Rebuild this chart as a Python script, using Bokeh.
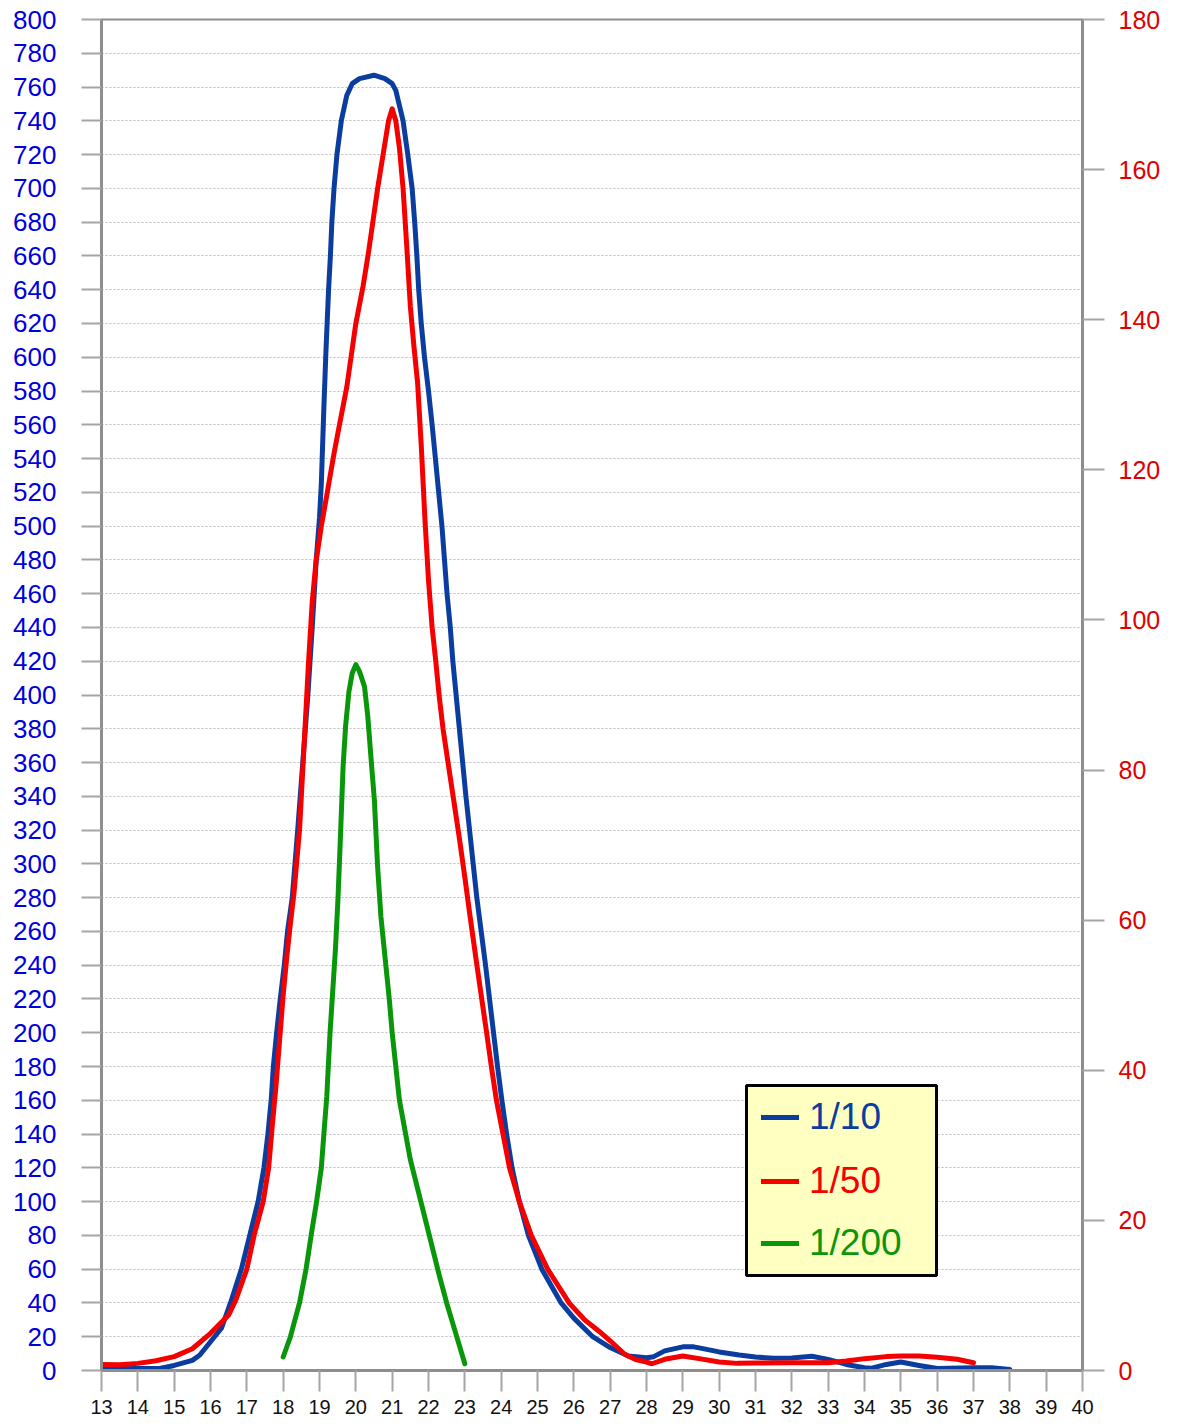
from bokeh.plotting import figure
from bokeh.models import Range1d, LinearAxis, FixedTicker, Legend, LegendItem, BoxAnnotation
from bokeh.embed import file_html
from bokeh.resources import INLINE

# ---------------- data ----------------
x_ticks = list(range(13, 41))
left_ticks = list(range(0, 801, 20))
right_ticks = list(range(0, 181, 20))

# 1/10  (left axis)
blue_x = [13.0, 14.0, 14.6, 15.0, 15.5, 15.7, 16.0, 16.3, 16.55, 16.85, 17.08, 17.31, 17.47,
          17.58, 17.67, 17.73, 17.82, 17.92, 18.03, 18.12, 18.25, 18.4, 18.54, 18.68, 18.8,
          18.91, 19.0, 19.05, 19.12, 19.18, 19.25, 19.3, 19.34, 19.4, 19.48, 19.6, 19.75,
          19.9, 20.1, 20.5, 20.8, 21.0, 21.1, 21.3, 21.43, 21.55, 21.62, 21.68, 21.73, 21.8,
          21.89, 22.0, 22.1, 22.19, 22.28, 22.37, 22.44, 22.51, 22.6, 22.67, 22.76, 22.85,
          22.94, 23.03, 23.13, 23.23, 23.33, 23.45, 23.57, 23.68, 23.79, 23.9, 24.02, 24.15,
          24.3, 24.5, 24.75, 25.12, 25.65, 26.0, 26.52, 27.0, 27.5, 28.0, 28.2, 28.5, 29.0,
          29.3, 29.45, 30.0, 30.55, 31.0, 31.5, 32.0, 32.55, 33.0, 33.5, 34.0, 34.2, 34.6,
          35.0, 35.5, 36.0, 37.0, 37.5, 38.0]
blue_y = [1, 1.2, 1.2, 3, 6, 9, 17, 25, 40, 60, 80, 100, 120,
          140, 160, 180, 200, 220, 240, 260, 280, 320, 360, 400, 440,
          480, 505, 525, 570, 605, 640, 660, 680, 700, 720, 740, 755,
          762, 765, 767, 765, 762, 758, 740, 720, 700, 680, 660, 640, 620,
          600, 580, 560, 540, 520, 500, 480, 460, 440, 420, 400, 380,
          360, 340, 320, 300, 280, 260, 240, 220, 200, 180, 160, 140,
          120, 100, 80, 60, 40, 31, 20, 13.6, 8.6, 7.6, 8.2, 11.6, 14,
          14, 13.4, 11, 9.2, 8, 7.2, 7.4, 8.4, 6.6, 3.6, 1.6, 1.4, 3.6,
          5, 3, 1.2, 1.6, 1.6, 0.6]

# 1/50  (right axis)
red_x = [13.0, 13.5, 14.0, 14.5, 15.0, 15.5, 16.0, 16.5, 16.7, 17.0, 17.2, 17.45, 17.6, 17.7,
         17.8, 17.9, 18.0, 18.1, 18.2, 18.3, 18.45, 18.6, 18.7, 18.8, 18.9, 19.05, 19.2, 19.4,
         19.55, 19.75, 19.9, 20.0, 20.2, 20.35, 20.5, 20.6, 20.75, 20.9, 21.0, 21.1, 21.2,
         21.3, 21.4, 21.5, 21.6, 21.7, 21.8, 21.9, 22.0, 22.1, 22.2, 22.3, 22.4, 22.55, 22.7,
         22.85, 23.0, 23.15, 23.3, 23.45, 23.6, 23.73, 23.87, 24.05, 24.23, 24.5,
         24.83, 25.28, 25.87, 26.3, 26.7, 27.0, 27.4, 27.7, 28.0, 28.15, 28.5, 29.0, 29.45,
         30.0, 30.5, 31.0, 32.0, 33.0, 33.5, 34.0, 34.6, 35.0, 35.5, 36.0, 36.55, 37.0]
red_y = [0.8, 0.77, 0.95, 1.3, 1.85, 2.9, 4.95, 7.4, 9.45, 13.5, 18, 22.5, 27, 32.6,
         37.8, 43.9, 50, 55.1, 59.6, 63.7, 72, 85.5, 94.5, 102.4, 107.6, 112.5, 116.6, 122.2,
         126, 131, 136.1, 139.5, 144.5, 149, 154.1, 157.5, 162, 166.5, 168.1, 166.5, 162.9,
         157.5, 149.9, 141.8, 136.4, 131.6, 123.3, 113.6, 105.3, 99, 94.5, 89.6, 85.5, 80.6, 75.8,
         70.9, 65.7, 60.3, 55.1, 50, 45, 40.5, 36, 31.5, 27, 22.5,
         18, 13.5, 9, 6.75, 5.2, 3.96, 2.16, 1.46, 1.13, 0.9, 1.49, 1.94, 1.58,
         1.13, 0.95, 0.99, 1.04, 1.04, 1.26, 1.58, 1.85, 1.94, 1.94, 1.76, 1.49, 1.04]

# 1/200  (right axis)
green_x = [18.0, 18.2, 18.45, 18.63, 18.77, 18.92, 19.05, 19.12, 19.2, 19.29, 19.35, 19.44,
           19.51, 19.58, 19.65, 19.72, 19.81, 19.9, 20.0, 20.1, 20.24, 20.33, 20.42, 20.51,
           20.6, 20.69, 20.83, 20.92, 21.0, 21.2, 21.5, 22.0, 22.3, 22.5, 22.75, 23.0]
green_y = [1.8, 4.5, 9, 13.5, 18, 22.5, 27, 31.5, 36.45, 45, 49.5, 56.25,
           63, 71.55, 80.55, 85.95, 90.45, 92.9, 94.05, 93.15, 91.1, 87.1, 81.45, 76.05,
           67.05, 60.5, 53.8, 49.5, 45, 36, 28.1, 18.45, 12.6, 9, 4.95, 0.9]

series_names = ["1/10", "1/50", "1/200"]
series_colors = ["#0B3D9E", "#F50000", "#0A960A"]

# ---------------- figure ----------------
FONT = "Liberation Sans"
GRAY = "#8E8E8E"

p = figure(width=1178, height=1420, x_range=Range1d(13, 40), y_range=Range1d(0, 800),
           output_backend="svg", toolbar_location=None,
           min_border_left=101, min_border_right=96, min_border_top=19, min_border_bottom=50)
p.extra_y_ranges = {"right": Range1d(0, 180)}
p.background_fill_color = "white"
p.border_fill_color = "white"
p.outline_line_color = GRAY
p.outline_line_width = 2

# left axis
ly = p.yaxis[0]
ly.ticker = FixedTicker(ticks=left_ticks)
ly.axis_line_color = GRAY
ly.axis_line_width = 3
ly.major_tick_line_color = "#A5A5A5"
ly.major_tick_line_width = 2
ly.major_tick_out = 20
ly.major_tick_in = 0
ly.minor_tick_line_color = None
ly.major_label_text_color = "#0000DD"
ly.major_label_text_font = FONT
ly.major_label_text_font_size = "26px"
ly.major_label_standoff = 25

# bottom axis
bx = p.xaxis[0]
bx.ticker = FixedTicker(ticks=x_ticks)
bx.axis_line_color = GRAY
bx.axis_line_width = 3
bx.major_tick_line_color = "#A5A5A5"
bx.major_tick_line_width = 2
bx.major_tick_out = 21
bx.major_tick_in = 0
bx.minor_tick_line_color = None
bx.major_label_text_color = "#111111"
bx.major_label_text_font = FONT
bx.major_label_text_font_size = "20px"
bx.major_label_standoff = 8

# right axis
ry = LinearAxis(y_range_name="right", ticker=FixedTicker(ticks=right_ticks))
ry.axis_line_color = GRAY
ry.axis_line_width = 3
ry.major_tick_line_color = "#A5A5A5"
ry.major_tick_line_width = 2
ry.major_tick_out = 22
ry.major_tick_in = 0
ry.minor_tick_line_color = None
ry.major_label_text_color = "#E00000"
ry.major_label_text_font = FONT
ry.major_label_text_font_size = "25px"
ry.major_label_standoff = 14
p.add_layout(ry, "right")

# grid
p.xgrid.visible = False
p.ygrid.grid_line_color = "#BDBDBD"
p.ygrid.grid_line_dash = "2 2"
p.ygrid.grid_line_width = 1

# series
rb = p.line(blue_x, blue_y, line_color=series_colors[0], line_width=5,
            line_join="round", line_cap="round")
rr = p.line(red_x, red_y, y_range_name="right", line_color=series_colors[1], line_width=5,
            line_join="round", line_cap="round")
rg = p.line(green_x, green_y, y_range_name="right", line_color=series_colors[2], line_width=5,
            line_join="round", line_cap="round")

# legend box
box = BoxAnnotation(left=645, right=835, bottom=95, top=285,
                    left_units="screen", right_units="screen",
                    bottom_units="screen", top_units="screen",
                    fill_color="#FFFFC2", fill_alpha=1.0,
                    line_color="black", line_alpha=1.0, line_width=3, level="annotation")
p.add_layout(box)

row_bottoms = [231, 167, 105]
for rend, name, col, yb in zip([rb, rr, rg], series_names, series_colors, row_bottoms):
    lg = Legend(items=[LegendItem(label=name, renderers=[rend])], location=(660, yb),
                orientation="vertical", padding=0, margin=0, spacing=0,
                glyph_width=38, glyph_height=44, label_height=44, label_standoff=10,
                label_text_font=FONT, label_text_font_size="37px", label_text_color=col,
                background_fill_alpha=0, border_line_color=None)
    p.add_layout(lg)

open("out.html", "w").write(file_html(p, INLINE))
